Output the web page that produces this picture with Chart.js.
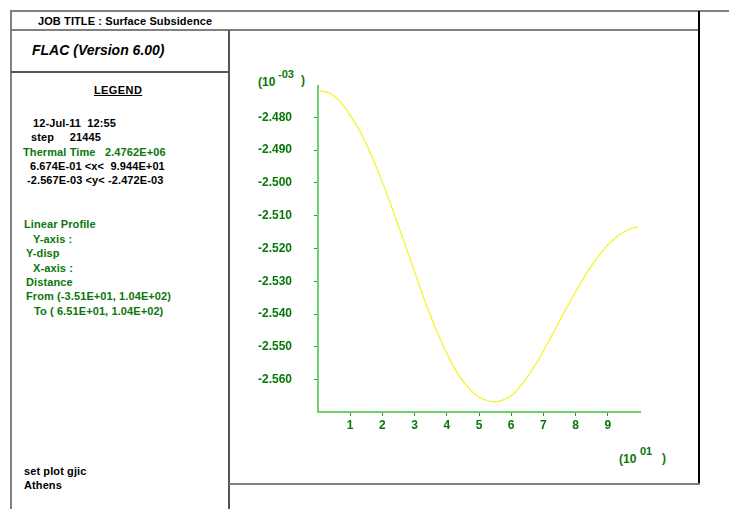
<!DOCTYPE html>
<html>
<head>
<meta charset="utf-8">
<script src="https://cdn.jsdelivr.net/npm/chart.js@4.4.0/dist/chart.umd.min.js"></script>
<style>
  body { margin: 0; background: #fff; width: 729px; height: 509px; overflow: hidden; position: relative;
         font-family: 'Liberation Sans', Arial, sans-serif; }
  .ln { position: absolute; background: #808080; }
  .t { position: absolute; font-size: 11px; font-weight: bold; line-height: 14px; white-space: pre;
       letter-spacing: 0.1px; color: #000; }
  .g { color: #0b760b; }
  .m { font-size: 12px; letter-spacing: 0; }
  #plot { position: absolute; left: 230px; top: 30px; width: 469px; height: 452px; }
</style>
</head>
<body>
<!-- frame -->
<div class="ln" style="left:11px;top:10px;width:718px;height:2px"></div>
<div class="ln" style="left:11px;top:29px;width:688px;height:2px"></div>
<div class="ln" style="left:10px;top:10px;width:2px;height:499px"></div>
<div class="ln" style="left:228px;top:30px;width:2px;height:479px;background:#555"></div>
<div class="ln" style="left:11px;top:71px;width:218px;height:2px;background:#555"></div>
<div class="ln" style="left:698px;top:11px;width:2px;height:473px;background:#000"></div>
<div class="ln" style="left:229px;top:483px;width:471px;height:2px"></div>

<!-- left panel text -->
<div class="t" style="left:38px;top:14px">JOB TITLE : Surface Subsidence</div>
<div class="t" style="left:32px;top:42px;font-size:14px;font-style:italic;line-height:16px;letter-spacing:0">FLAC (Version 6.00)</div>
<div class="t" style="left:94px;top:83px;text-decoration:underline;letter-spacing:0.4px">LEGEND</div>
<div class="t" style="left:33px;top:116px">12-Jul-11  12:55</div>
<div class="t" style="left:31px;top:130px">step     21445</div>
<div class="t g" style="left:23px;top:145px">Thermal Time   2.4762E+06</div>
<div class="t" style="left:30px;top:159px">6.674E-01 &lt;x&lt;  9.944E+01</div>
<div class="t" style="left:27px;top:173px">-2.567E-03 &lt;y&lt; -2.472E-03</div>
<div class="t g" style="left:24px;top:217px">Linear Profile</div>
<div class="t g" style="left:33px;top:232px">Y-axis :</div>
<div class="t g" style="left:26px;top:246px">Y-disp</div>
<div class="t g" style="left:33px;top:261px">X-axis :</div>
<div class="t g" style="left:26px;top:275px">Distance</div>
<div class="t g" style="left:26px;top:289px">From (-3.51E+01, 1.04E+02)</div>
<div class="t g" style="left:34px;top:304px">To ( 6.51E+01, 1.04E+02)</div>
<div class="t" style="left:24px;top:464px">set plot gjic</div>
<div class="t" style="left:24px;top:478px">Athens</div>

<!-- axis multipliers -->
<div class="t g m" style="left:258px;top:75px">(10</div>
<div class="t g m" style="left:278px;top:67px;font-size:11px">-03</div>
<div class="t g m" style="left:301px;top:73px">)</div>
<div class="t g m" style="left:619px;top:452px">(10</div>
<div class="t g m" style="left:640px;top:444px;font-size:11px">01</div>
<div class="t g m" style="left:662px;top:451px">)</div>

<div id="plot"><canvas id="chart"></canvas></div>

<script>
// distance along profile, in units of 10^01
const distance = [0.067, 0.372, 0.681, 0.991, 1.30, 1.61, 1.92, 2.23, 2.54, 2.85, 3.16, 3.47,
  3.78, 4.09, 4.40, 4.71, 5.02, 5.48, 5.94, 6.25, 6.56, 6.87, 7.18, 7.49, 7.80, 8.11,
  8.42, 8.73, 9.04, 9.35, 9.66, 9.944];
// vertical displacement, in units of 10^-03
const ydisp = [-2.4720, -2.4727, -2.4752, -2.4793, -2.4843, -2.4905, -2.4978, -2.5058, -2.5143,
  -2.5229, -2.5316, -2.5399, -2.5473, -2.5537, -2.5590, -2.5628, -2.5654, -2.5667, -2.5652,
  -2.5624, -2.5583, -2.5535, -2.5480, -2.5423, -2.5367, -2.5313, -2.5263, -2.5220, -2.5185,
  -2.5159, -2.5142, -2.5134];
const xTicks = [1, 2, 3, 4, 5, 6, 7, 8, 9];
const yTicks = [-2.48, -2.49, -2.50, -2.51, -2.52, -2.53, -2.54, -2.55, -2.56];

const labelGreen = '#0b760b';
const axisGreen = '#6fd06f';
const tickFont = { family: "'Liberation Sans', Arial, sans-serif", size: 12, weight: 'bold' };

new Chart(document.getElementById('chart').getContext('2d'), {
  type: 'line',
  data: {
    datasets: [{
      data: distance.map((x, i) => ({ x: x, y: ydisp[i] })),
      borderColor: '#f4f41c',
      borderWidth: 1.2,
      pointRadius: 0,
      fill: false,
      tension: 0.4
    }]
  },
  options: {
    responsive: true,
    maintainAspectRatio: false,
    animation: false,
    layout: { padding: { top: 56, right: 59, left: 0, bottom: 0 } },
    plugins: { legend: { display: false }, tooltip: { enabled: false } },
    scales: {
      x: {
        type: 'linear',
        min: 0,
        max: 10,
        afterBuildTicks: (s) => { s.ticks = xTicks.map(v => ({ value: v })); },
        afterFit: (s) => { s.height = 70; },
        ticks: { color: labelGreen, font: tickFont, padding: 2, maxRotation: 0,
                 callback: (v) => String(v) },
        grid: { drawOnChartArea: false, tickLength: 4, color: '#2a9a2a' },
        border: { color: axisGreen, width: 2 }
      },
      y: {
        min: -2.5698,
        max: -2.4705,
        afterBuildTicks: (s) => { s.ticks = yTicks.map(v => ({ value: v })); },
        afterFit: (s) => { s.width = 88; },
        ticks: { color: labelGreen, font: tickFont, padding: 22,
                 callback: (v) => v.toFixed(3) },
        grid: { drawOnChartArea: false, tickLength: 4, color: '#2a9a2a' },
        border: { color: axisGreen, width: 2 }
      }
    }
  }
});
</script>
</body>
</html>
